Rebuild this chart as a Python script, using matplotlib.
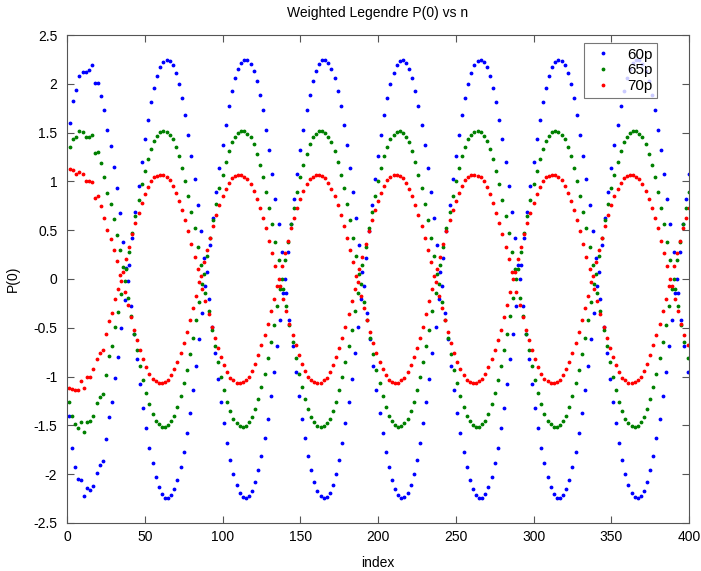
import matplotlib
matplotlib.use("Agg")
import matplotlib.pyplot as plt
import numpy as np
from matplotlib.ticker import FuncFormatter, MultipleLocator

# Значения (индекс 1..400)
p60 = [
    -1.40, 1.60, -1.73, 1.82, -1.93, 1.94, -2.05, 2.08, -2.06, 2.12,
    -2.22, 2.12, -2.14, 2.14, -2.16, 2.19, -2.12, 2.01, -1.99, 2.01,
    -1.91, 1.88, -1.87, 1.73, -1.64, 1.53, -1.41, 1.36, -1.26, 1.15,
    -1.01, 0.93, -0.80, 0.68, -0.50, 0.38, -0.22, 0.11, -0.02,
    0.14, -0.28, 0.42, -0.56, 0.69, -0.82, 0.95, -1.08, 1.20, -1.32, 1.43, -1.53, 1.63, -1.73, 1.81, -1.89, 1.96, -2.03, 2.08, -2.13, 2.17, -2.20, 2.22, -2.24, 2.24,
    -2.24, 2.23, -2.21, 2.19, -2.15, 2.11, -2.06, 2.00, -1.93, 1.85, -1.77, 1.68, -1.58, 1.48, -1.37, 1.26, -1.14, 1.02, -0.89, 0.76, -0.62, 0.49, -0.35, 0.21, -0.07,
    0.07, -0.21, 0.35, -0.49, 0.62, -0.76, 0.89, -1.02, 1.14, -1.26, 1.37, -1.48, 1.58, -1.68, 1.77, -1.85, 1.93, -2.00, 2.06, -2.11, 2.15, -2.19, 2.21, -2.23, 2.24,
    -2.24,
    2.24, -2.22, 2.20, -2.17, 2.13, -2.08, 2.03, -1.96, 1.89, -1.81, 1.73, -1.63, 1.53, -1.43, 1.32, -1.20, 1.08, -0.95, 0.82, -0.69, 0.56, -0.42, 0.28, -0.14, 0.00,
    -0.14, 0.28, -0.42, 0.56, -0.69, 0.82, -0.95, 1.08, -1.20, 1.32, -1.43, 1.53, -1.63, 1.73, -1.81, 1.89, -1.96, 2.03, -2.08, 2.13, -2.17, 2.20, -2.22, 2.24, -2.24,
    2.24, -2.23, 2.21, -2.19, 2.15, -2.11, 2.06, -2.00, 1.93, -1.85, 1.77, -1.68, 1.58, -1.48, 1.37, -1.26, 1.14, -1.02, 0.89, -0.76, 0.62, -0.49, 0.35, -0.21, 0.07,
    -0.07, 0.21, -0.35, 0.49, -0.62, 0.76, -0.89, 1.02, -1.14, 1.26, -1.37, 1.48, -1.58, 1.68, -1.77, 1.85, -1.93, 2.00, -2.06, 2.11, -2.15, 2.19, -2.21, 2.23, -2.24,
    2.24, -2.23, 2.21, -2.19, 2.15, -2.11, 2.06, -2.00, 1.93, -1.85, 1.77, -1.68, 1.58, -1.48, 1.37, -1.26, 1.14, -1.02, 0.89, -0.76, 0.62, -0.49, 0.35, -0.21, 0.07,
    -0.07, 0.21, -0.35, 0.49, -0.62, 0.76, -0.89, 1.02, -1.14, 1.26, -1.37, 1.48, -1.58, 1.68, -1.77, 1.85, -1.93, 2.00, -2.06, 2.11, -2.15, 2.19, -2.21, 2.23, -2.24,
    2.24,
    -2.24, 2.22, -2.20, 2.17, -2.13, 2.08, -2.03, 1.96, -1.89, 1.81, -1.73, 1.63, -1.53, 1.43, -1.32, 1.20, -1.08, 0.95, -0.82, 0.69, -0.56, 0.42, -0.28, 0.14, 0.00,
    0.14, -0.28, 0.42, -0.56, 0.69, -0.82, 0.95, -1.08, 1.20, -1.32, 1.43, -1.53, 1.63, -1.73, 1.81, -1.89, 1.96, -2.03, 2.08, -2.13, 2.17, -2.20, 2.22, -2.24, 2.24,
    -2.24, 2.23, -2.21, 2.19, -2.15, 2.11, -2.06, 2.00, -1.93, 1.85, -1.77, 1.68, -1.58, 1.48, -1.37, 1.26, -1.14, 1.02, -0.89, 0.76, -0.62, 0.49, -0.35, 0.21, -0.07,
    0.07, -0.21, 0.35, -0.49, 0.62, -0.76, 0.89, -1.02, 1.14, -1.26, 1.37, -1.48, 1.58, -1.68, 1.77, -1.85, 1.93, -2.00, 2.06, -2.11, 2.15, -2.19, 2.21, -2.23, 2.24,
    -2.24,
    2.24, -2.22, 2.20, -2.17, 2.13, -2.08, 2.03, -1.96, 1.89, -1.81, 1.73, -1.63, 1.53, -1.43, 1.32, -1.20, 1.08, -0.95, 0.82, -0.69, 0.56, -0.42, 0.28, -0.14, 0.00,
    -0.14, 0.28, -0.42, 0.56, -0.69, 0.82, -0.95, 1.08,
]

p65 = [
    -1.26, 1.35, -1.40, 1.43, -1.49, 1.45, -1.53, 1.52, -1.47, 1.51,
    -1.57, 1.45, -1.47, 1.45, -1.46, 1.48, -1.40, 1.29, -1.27, 1.30,
    -1.21, 1.19, -1.18, 1.05, -0.98, 0.88, -0.79, 0.77, -0.69, 0.61,
    -0.49, 0.45, -0.34, 0.30, -0.15, 0.12, -0.02,
    0.10, -0.19, 0.28, -0.38, 0.47, -0.56, 0.65, -0.73, 0.81, -0.89, 0.97, -1.04, 1.11, -1.17, 1.23, -1.28, 1.33, -1.38, 1.41, -1.45, 1.47, -1.49, 1.51, -1.52, 1.52,
    -1.52, 1.51, -1.50, 1.48, -1.46, 1.43, -1.40, 1.35, -1.31, 1.26, -1.20, 1.14, -1.07, 1.00, -0.93, 0.85, -0.77, 0.69, -0.60, 0.52, -0.42, 0.33, -0.24, 0.14, -0.05,
    0.05, -0.14, 0.24, -0.33, 0.42, -0.52, 0.60, -0.69, 0.77, -0.85, 0.93, -1.00, 1.07, -1.14, 1.20, -1.26, 1.31, -1.35, 1.40, -1.43, 1.46, -1.48, 1.50, -1.51, 1.52,
    -1.52,
    1.52, -1.51, 1.49, -1.47, 1.45, -1.41, 1.38, -1.33, 1.28, -1.23, 1.17, -1.11, 1.04, -0.97, 0.89, -0.81, 0.73, -0.65, 0.56, -0.47, 0.38, -0.28, 0.19, -0.10, 0.00,
    -0.10, 0.19, -0.28, 0.38, -0.47, 0.56, -0.65, 0.73, -0.81, 0.89, -0.97, 1.04, -1.11, 1.17, -1.23, 1.28, -1.33, 1.38, -1.41, 1.45, -1.47, 1.49, -1.51, 1.52, -1.52,
    1.52, -1.51, 1.50, -1.48, 1.46, -1.43, 1.40, -1.35, 1.31, -1.26, 1.20, -1.14, 1.07, -1.00, 0.93, -0.85, 0.77, -0.69, 0.60, -0.52, 0.42, -0.33, 0.24, -0.14, 0.05,
    -0.05, 0.14, -0.24, 0.33, -0.42, 0.52, -0.60, 0.69, -0.77, 0.85, -0.93, 1.00, -1.07, 1.14, -1.20, 1.26, -1.31, 1.35, -1.40, 1.43, -1.46, 1.48, -1.50, 1.51, -1.52,
    1.52, -1.51, 1.50, -1.48, 1.46, -1.43, 1.40, -1.35, 1.31, -1.26, 1.20, -1.14, 1.07, -1.00, 0.93, -0.85, 0.77, -0.69, 0.60, -0.52, 0.42, -0.33, 0.24, -0.14, 0.05,
    -0.05, 0.14, -0.24, 0.33, -0.42, 0.52, -0.60, 0.69, -0.77, 0.85, -0.93, 1.00, -1.07, 1.14, -1.20, 1.26, -1.31, 1.35, -1.40, 1.43, -1.46, 1.48, -1.50, 1.51, -1.52,
    1.52,
    -1.52, 1.51, -1.49, 1.47, -1.45, 1.41, -1.38, 1.33, -1.28, 1.23, -1.17, 1.11, -1.04, 0.97, -0.89, 0.81, -0.73, 0.65, -0.56, 0.47, -0.38, 0.28, -0.19, 0.10, 0.00,
    0.10, -0.19, 0.28, -0.38, 0.47, -0.56, 0.65, -0.73, 0.81, -0.89, 0.97, -1.04, 1.11, -1.17, 1.23, -1.28, 1.33, -1.38, 1.41, -1.45, 1.47, -1.49, 1.51, -1.52, 1.52,
    -1.52, 1.51, -1.50, 1.48, -1.46, 1.43, -1.40, 1.35, -1.31, 1.26, -1.20, 1.14, -1.07, 1.00, -0.93, 0.85, -0.77, 0.69, -0.60, 0.52, -0.42, 0.33, -0.24, 0.14, -0.05,
    0.05, -0.14, 0.24, -0.33, 0.42, -0.52, 0.60, -0.69, 0.77, -0.85, 0.93, -1.00, 1.07, -1.14, 1.20, -1.26, 1.31, -1.35, 1.40, -1.43, 1.46, -1.48, 1.50, -1.51, 1.52,
    -1.52,
    1.52, -1.51, 1.49, -1.47, 1.45, -1.41, 1.38, -1.33, 1.28, -1.23, 1.17, -1.11, 1.04, -0.97, 0.89, -0.81, 0.73, -0.65, 0.56, -0.47, 0.38, -0.28, 0.19, -0.10, 0.00,
    -0.10, 0.19, -0.28, 0.38, -0.47, 0.56, -0.65, 0.73, -0.81, 0.89,
]

p70 = [
    -1.12, 1.13, -1.13, 1.12, -1.14, 1.08, -1.14, 1.10, -1.05, 1.08,
    -1.12, 1.00, -1.00, 1.00, -1.00, 0.99, -0.92, 0.83, -0.82, 0.85,
    -0.76, 0.75, -0.73, 0.63, -0.56, 0.50, -0.43, 0.41, -0.35, 0.30,
    -0.21, 0.18, -0.10, 0.04, -0.02,
    0.07, -0.13, 0.20, -0.27, 0.33, -0.39, 0.46, -0.52, 0.57, -0.63, 0.68, -0.73, 0.78, -0.82, 0.87, -0.90, 0.94, -0.97, 1.00, -1.02, 1.04, -1.05, 1.06, -1.07, 1.07,
    -1.07, 1.07, -1.06, 1.04, -1.03, 1.01, -0.98, 0.95, -0.92, 0.88, -0.85, 0.80, -0.76, 0.71, -0.66, 0.60, -0.54, 0.49, -0.42, 0.36, -0.30, 0.23, -0.17, 0.10, -0.03,
    0.03, -0.10, 0.17, -0.23, 0.30, -0.36, 0.42, -0.49, 0.54, -0.60, 0.66, -0.71, 0.76, -0.80, 0.85, -0.88, 0.92, -0.95, 0.98, -1.01, 1.03, -1.04, 1.06, -1.07, 1.07,
    -1.07,
    1.07, -1.06, 1.05, -1.04, 1.02, -1.00, 0.97, -0.94, 0.90, -0.87, 0.82, -0.78, 0.73, -0.68, 0.63, -0.57, 0.52, -0.46, 0.39, -0.33, 0.27, -0.20, 0.13, -0.07, 0.00,
    -0.07, 0.13, -0.20, 0.27, -0.33, 0.39, -0.46, 0.52, -0.57, 0.63, -0.68, 0.73, -0.78, 0.82, -0.87, 0.90, -0.94, 0.97, -1.00, 1.02, -1.04, 1.05, -1.06, 1.07, -1.07,
    1.07, -1.07, 1.06, -1.04, 1.03, -1.01, 0.98, -0.95, 0.92, -0.88, 0.85, -0.80, 0.76, -0.71, 0.66, -0.60, 0.54, -0.49, 0.42, -0.36, 0.30, -0.23, 0.17, -0.10, 0.03,
    -0.03, 0.10, -0.17, 0.23, -0.30, 0.36, -0.42, 0.49, -0.54, 0.60, -0.66, 0.71, -0.76, 0.80, -0.85, 0.88, -0.92, 0.95, -0.98, 1.01, -1.03, 1.04, -1.06, 1.07, -1.07,
    1.07, -1.07, 1.06, -1.04, 1.03, -1.01, 0.98, -0.95, 0.92, -0.88, 0.85, -0.80, 0.76, -0.71, 0.66, -0.60, 0.54, -0.49, 0.42, -0.36, 0.30, -0.23, 0.17, -0.10, 0.03,
    -0.03, 0.10, -0.17, 0.23, -0.30, 0.36, -0.42, 0.49, -0.54, 0.60, -0.66, 0.71, -0.76, 0.80, -0.85, 0.88, -0.92, 0.95, -0.98, 1.01, -1.03, 1.04, -1.06, 1.07, -1.07,
    1.07,
    -1.07, 1.06, -1.05, 1.04, -1.02, 1.00, -0.97, 0.94, -0.90, 0.87, -0.82, 0.78, -0.73, 0.68, -0.63, 0.57, -0.52, 0.46, -0.39, 0.33, -0.27, 0.20, -0.13, 0.07, 0.00,
    0.07, -0.13, 0.20, -0.27, 0.33, -0.39, 0.46, -0.52, 0.57, -0.63, 0.68, -0.73, 0.78, -0.82, 0.87, -0.90, 0.94, -0.97, 1.00, -1.02, 1.04, -1.05, 1.06, -1.07, 1.07,
    -1.07, 1.07, -1.06, 1.04, -1.03, 1.01, -0.98, 0.95, -0.92, 0.88, -0.85, 0.80, -0.76, 0.71, -0.66, 0.60, -0.54, 0.49, -0.42, 0.36, -0.30, 0.23, -0.17, 0.10, -0.03,
    0.03, -0.10, 0.17, -0.23, 0.30, -0.36, 0.42, -0.49, 0.54, -0.60, 0.66, -0.71, 0.76, -0.80, 0.85, -0.88, 0.92, -0.95, 0.98, -1.01, 1.03, -1.04, 1.06, -1.07, 1.07,
    -1.07,
    1.07, -1.06, 1.05, -1.04, 1.02, -1.00, 0.97, -0.94, 0.90, -0.87, 0.82, -0.78, 0.73, -0.68, 0.63, -0.57, 0.52, -0.46, 0.39, -0.33, 0.27, -0.20, 0.13, -0.07, 0.00,
    -0.07, 0.13, -0.20, 0.27, -0.33, 0.39, -0.46, 0.52, -0.57, 0.63, -0.68, 0.73,
]

series_labels = ['60p', '65p', '70p']
series_colors = ['#0000ff', '#008000', '#ff0000']

plt.rcParams['font.family'] = ['Liberation Sans', 'DejaVu Sans']
plt.rcParams['axes.unicode_minus'] = False

fig = plt.figure(figsize=(7.01, 5.71), dpi=100)
ax = fig.add_axes([0.0956, 0.0841, 0.8874, 0.8546])

for vals, lab, col in zip([p60, p65, p70], series_labels, series_colors):
    idx = np.arange(1, len(vals) + 1)
    ax.plot(idx, vals, '.', color=col, markersize=3.5, label=lab)

ax.set_xlim(0, 400)
ax.set_ylim(-2.5, 2.5)
ax.xaxis.set_major_locator(MultipleLocator(50))
ax.yaxis.set_major_locator(MultipleLocator(0.5))
fmt = FuncFormatter(lambda v, p: '%g' % round(v, 2))
ax.xaxis.set_major_formatter(fmt)
ax.yaxis.set_major_formatter(fmt)
ax.tick_params(direction='in', top=True, right=True, length=5, labelsize=10,
               color='#555555', width=0.8)
ax.tick_params(axis='y', pad=7)
ax.tick_params(axis='x', pad=5)
for sp in ax.spines.values():
    sp.set_color('#555555')
    sp.set_linewidth(0.8)

ax.set_title('Weighted Legendre P(0) vs n', fontsize=10, pad=13)
ax.set_xlabel('index', fontsize=10, labelpad=9)
ax.set_ylabel('P(0)', fontsize=10, labelpad=10)

leg = ax.legend(loc='upper right', bbox_to_anchor=(0.9486, 0.9836),
                borderaxespad=0, fontsize=11, frameon=True, fancybox=False,
                numpoints=1, handlelength=1.8, labelspacing=0.12,
                borderpad=0.3, handletextpad=0.7)
leg.get_frame().set_edgecolor('#555555')
leg.get_frame().set_linewidth(0.8)

fig.savefig('out.png', dpi=100)
